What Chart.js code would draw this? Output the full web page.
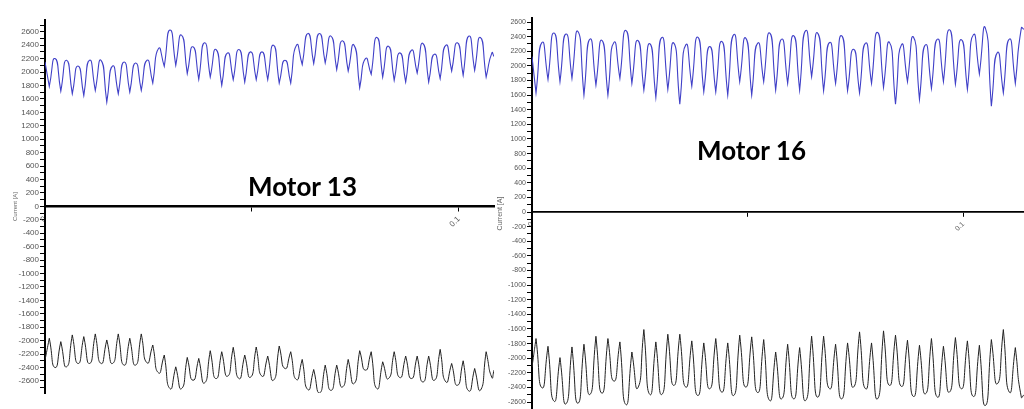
<!DOCTYPE html>
<html>
<head>
<meta charset="utf-8">
<script src="https://cdn.jsdelivr.net/npm/chart.js@4.4.1/dist/chart.umd.min.js"></script>
<style>
  body { margin: 0; background: #fff; width: 1024px; height: 409px; overflow: hidden; position: relative; }
  .panel { position: absolute; top: 0; height: 409px; }
  #left { left: 0; width: 496px; }
  #right { left: 494px; width: 530px; }
  .motor { position: absolute; font-family: Lato, "Liberation Sans", sans-serif; font-weight: bold; font-size: 26px; line-height: 1; color: #000; white-space: nowrap; }
</style>
</head>
<body>
<div class="panel" id="left"><canvas id="chart13"></canvas></div>
<div class="panel" id="right"><canvas id="chart16"></canvas></div>
<div class="motor" style="left:248px; top:173px;">Motor 13</div>
<div class="motor" style="left:697px; top:137px;">Motor 16</div>
<script>
// time between two troughs of the current ripple [s]
const PERIOD = 0.002778;

const xTickValues = [0, 0.05, 0.1];
const xTickLabels = ["0", "", "0.1"];

// ---- Motor 13 ----
const m13FirstTrough = 0.00104;
const m13XMax = 0.1085;
const m13BlueStart = 2150;
const m13BlueEnd = 2230;
const m13BlueTroughs = [1785, 1715, 1675, 1650, 1725, 1550, 1675, 1700, 1725, 1835,
  2085, 2100, 1975, 1890, 1925, 1800, 1885, 1850, 1885, 1885,
  1835, 1835, 2110, 2125, 2135, 2035, 2015, 1765, 1965, 1925,
  1875, 1850, 1985, 1850, 1900, 2015, 1950, 2025, 1925];
const m13BluePeaks = [2200, 2175, 2090, 2175, 2175, 2090, 2150, 2135, 2175, 2350,
  2625, 2550, 2375, 2435, 2335, 2285, 2335, 2300, 2300, 2400,
  2175, 2400, 2575, 2575, 2535, 2465, 2400, 2200, 2515, 2385,
  2285, 2325, 2425, 2265, 2400, 2435, 2535, 2515, 2285];
const m13BlackStart = -2290;
const m13BlackEnd = -2440;
const m13BlackPeaks = [-1965, -2015, -1915, -1940, -1900, -1990, -1900, -1965, -1900, -2065,
  -2215, -2390, -2250, -2265, -2150, -2165, -2100, -2215, -2095, -2230,
  -2080, -2165, -2280, -2430, -2365, -2365, -2280, -2150, -2165, -2315,
  -2165, -2230, -2230, -2230, -2130, -2340, -2300, -2415, -2165];
const m13BlackTroughs = [-2400, -2390, -2340, -2340, -2340, -2340, -2365, -2365, -2330, -2480,
  -2715, -2715, -2590, -2630, -2565, -2530, -2565, -2545, -2530, -2590,
  -2415, -2580, -2730, -2780, -2740, -2690, -2640, -2440, -2715, -2565,
  -2550, -2565, -2615, -2590, -2615, -2665, -2750, -2740, -2550];

// ---- Motor 16 ----
const m16FirstTrough = 0.00093;
const m16XMax = 0.11406;
const m16BlueStart = 2127;
const m16BlueEnd = 2500;
const m16BlueTroughs = [1630, 1815, 1783, 1829, 1600, 1737, 1600, 1829, 1760, 1668,
  1567, 1677, 1475, 1723, 1645, 1645, 1600, 1783, 1600, 1783,
  1668, 1760, 1668, 1852, 1659, 1760, 1659, 1631, 1760, 1705,
  1475, 1783, 1540, 1691, 1783, 1751, 1677, 1889, 1448, 1631, 1760];
const m16BluePeaks = [2320, 2450, 2435, 2470, 2365, 2348, 2320, 2485, 2348, 2302,
  2389, 2311, 2288, 2393, 2265, 2334, 2426, 2380, 2311, 2449,
  2366, 2412, 2481, 2449, 2320, 2412, 2228, 2311, 2458, 2320,
  2288, 2393, 2288, 2366, 2494, 2357, 2426, 2517, 2182, 2366, 2517];
const m16BlackStart = -2120;
const m16BlackEnd = -2500;
const m16BlackPeaks = [-1731, -1837, -1992, -1846, -1809, -1700, -1731, -1777, -1915, -1608,
  -1777, -1672, -1672, -1763, -1791, -1731, -1791, -1685, -1708, -1745,
  -1915, -1809, -1855, -1699, -1699, -1809, -1791, -1640, -1791, -1626,
  -1685, -1754, -1823, -1731, -1837, -1718, -1763, -1823, -1745, -1608, -1855];
const m16BlackTroughs = [-2405, -2588, -2624, -2615, -2496, -2478, -2313, -2634, -2405, -2496,
  -2496, -2372, -2395, -2510, -2418, -2464, -2510, -2395, -2470, -2579,
  -2556, -2556, -2579, -2533, -2418, -2556, -2395, -2418, -2556, -2372,
  -2386, -2524, -2487, -2533, -2464, -2418, -2524, -2647, -2350, -2464, -2533];


function buildTrace(start, sharp, round, firstSharp, end, xEnd) {
  const pts = [{ x: 0, y: start }];
  for (let i = 0; i < sharp.length; i++) {
    const t = firstSharp + i * PERIOD;
    // the sharp extreme is listed twice so the spline gets a cusp there
    pts.push({ x: t, y: sharp[i] });
    pts.push({ x: t, y: sharp[i] });
    pts.push({ x: t + PERIOD / 2, y: round[i] });
  }
  pts.push({ x: xEnd, y: end });
  return pts;
}


function drawMotor(canvasId, blue, black, look) {
  return new Chart(document.getElementById(canvasId), {
    type: "line",
    data: {
      datasets: [
        { data: blue, borderColor: "#4040c8", borderWidth: 1.1, pointRadius: 0, tension: 0.65, fill: false },
        { data: black, borderColor: "#222", borderWidth: 1, pointRadius: 0, tension: 0.65, fill: false }
      ]
    },
    options: {
      animation: false,
      responsive: true,
      maintainAspectRatio: false,
      layout: { padding: look.padding },
      plugins: { legend: { display: false }, tooltip: { enabled: false } },
      scales: {
        x: {
          type: "linear",
          min: 0,
          max: look.xMax,
          position: { y: 0 },
          afterBuildTicks: s => { s.ticks = xTickValues.map(v => ({ value: v })); },
          afterFit: s => { s.paddingLeft = 0; s.paddingRight = 0; s.paddingTop = 0; s.paddingBottom = 0; },
          border: { color: "#000", width: look.xBorder },
          grid: { drawOnChartArea: false, drawTicks: true, tickLength: 4, tickColor: "#000" },
          ticks: {
            autoSkip: false, minRotation: 45, maxRotation: 45, padding: 4,
            color: "#555", font: { size: look.tickSize },
            callback: (v, i) => xTickLabels[i]
          }
        },
        y: {
          min: look.yMin,
          max: look.yMax,
          afterFit: s => { s.width = look.yWidth; s.paddingTop = 0; s.paddingBottom = 0; },
          border: { color: "#000", width: 2 },
          grid: { drawOnChartArea: false, tickLength: 5, tickColor: "#000" },
          ticks: {
            stepSize: 100, includeBounds: false, autoSkip: false, padding: 1,
            color: "#555", font: { size: look.tickSize },
            callback: v => (v % 200 === 0 ? String(v) : "")
          },
          title: {
            display: true, text: "Current [A]", color: "#666",
            font: { size: look.titleSize }, padding: { top: look.titlePad, bottom: 0 }
          }
        }
      }
    }
  });
}


document.addEventListener("DOMContentLoaded", () => {
  Chart.defaults.font.family = "'Liberation Sans', Arial, sans-serif";

  drawMotor("chart13",
    buildTrace(m13BlueStart, m13BlueTroughs, m13BluePeaks, m13FirstTrough, m13BlueEnd, m13XMax),
    buildTrace(m13BlackStart, m13BlackPeaks, m13BlackTroughs, m13FirstTrough, m13BlackEnd, m13XMax),
    { padding: { top: 20, bottom: 16, left: 0, right: 2 }, xMax: m13XMax, yMin: -2780, yMax: 2775,
      yWidth: 45, xBorder: 2.5, tickSize: 8, titleSize: 6, titlePad: 12 });

  drawMotor("chart16",
    buildTrace(m16BlueStart, m16BlueTroughs, m16BluePeaks, m16FirstTrough, m16BlueEnd, m16XMax),
    buildTrace(m16BlackStart, m16BlackPeaks, m16BlackTroughs, m16FirstTrough, m16BlackEnd, m16XMax),
    { padding: { top: 18, bottom: 0, left: 0, right: 0 }, xMax: m16XMax, yMin: -2695, yMax: 2655,
      yWidth: 38, xBorder: 1.8, tickSize: 7, titleSize: 7, titlePad: 2 });
});
</script>
</body>
</html>
